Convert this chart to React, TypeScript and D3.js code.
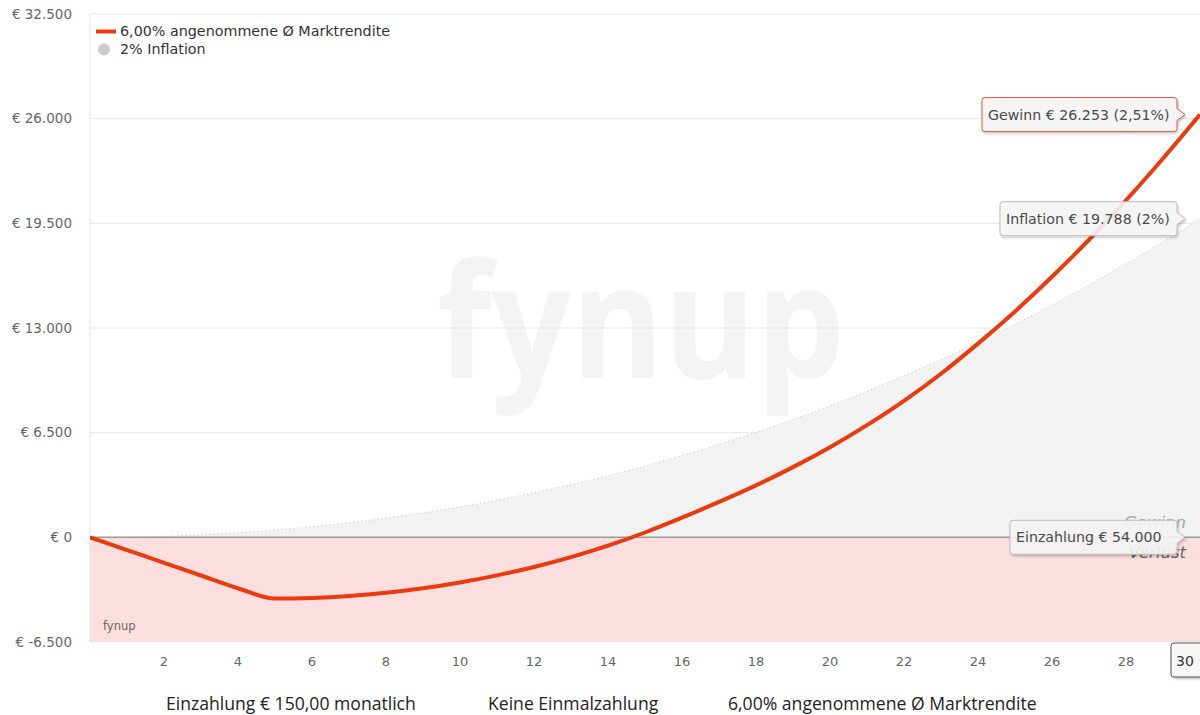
import React from "react";
import * as d3 from "d3";

// values (Gewinn / Verlust over 30 years)
const years = [0, 1, 2, 3, 4, 5, 6, 7, 8, 9, 10, 11, 12, 13, 14, 15, 16, 17, 18, 19, 20, 21, 22, 23, 24, 25, 26, 27, 28, 29, 30];
const gewinn = [0, -790, -1580, -2370, -3160, -3800, -3760, -3640, -3440, -3160, -2800, -2360, -1840, -1230, -520, 300, 1220, 2200, 3230, 4360, 5600, 6970, 8480, 10160, 12030, 14030, 16180, 18480, 20930, 23530, 26253];
const inflation = [0, 20, 70, 160, 290, 455, 660, 905, 1195, 1525, 1895, 2310, 2770, 3280, 3830, 4430, 5075, 5775, 6520, 7320, 8170, 9070, 10030, 11045, 12115, 13240, 14430, 15675, 16985, 18350, 19788];
const yTicks = [-6500, 0, 6500, 13000, 19500, 26000, 32500];
const xTicks = [2, 4, 6, 8, 10, 12, 14, 16, 18, 20, 22, 24, 26, 28];
const einzahlungGesamt = 54000;
const gewinnRate = "2,51%";
const inflationRate = "2%";
const legendLabels = ["6,00% angenommene Ø Marktrendite", "2% Inflation"];
const footerTexts = ["Einzahlung € 150,00 monatlich", "Keine Einmalzahlung", "6,00% angenommene Ø Marktrendite"];

const width = 1200, height = 715;
const margin = { top: 14, right: 0, bottom: 73, left: 90 };

const de = d3.formatLocale({ decimal: ",", thousands: ".", grouping: [3], currency: ["€ ", ""], minus: "-" });
const fmt = de.format(",.0f");
const euro = (v: number) => "€ " + fmt(v);

const font = "'DejaVu Sans', Verdana, sans-serif";

// callout box with the pointer on its right side
const callout = (x: number, y: number, w: number, h: number, tipX: number, tipY: number) => {
  const r = 3;
  return `M${x + r},${y} H${x + w - r} Q${x + w},${y} ${x + w},${y + r} V${tipY - 6} L${tipX},${tipY} L${x + w},${tipY + 6} V${y + h - r} Q${x + w},${y + h} ${x + w - r},${y + h} H${x + r} Q${x},${y + h} ${x},${y + h - r} V${y + r} Q${x},${y} ${x + r},${y} Z`;
};

const App = () => {
  const x = d3.scaleLinear().domain([0, 30]).range([margin.left, width - margin.right]);
  const y = d3.scaleLinear().domain([-6500, 32500]).range([height - margin.bottom, margin.top]);

  const pts = years.map((yr, i) => ({ yr, g: gewinn[i], inf: inflation[i] }));

  const gewinnLine = d3.line<any>().x(d => x(d.yr)).y(d => y(d.g)).curve(d3.curveMonotoneX);
  const inflArea = d3.area<any>().x(d => x(d.yr)).y0(y(0)).y1(d => y(d.inf)).curve(d3.curveMonotoneX);
  const inflLine = d3.line<any>().x(d => x(d.yr)).y(d => y(d.inf)).curve(d3.curveMonotoneX);

  const last = years.length - 1;
  const px = x(years[last]);
  const tips = [
    { text: `Gewinn ${euro(gewinn[last])} (${gewinnRate})`, v: gewinn[last], w: 195, stroke: "#e8553f" },
    { text: `Inflation ${euro(inflation[last])} (${inflationRate})`, v: inflation[last], w: 177, stroke: "#bdbdbd" },
    { text: `Einzahlung ${euro(einzahlungGesamt)}`, v: 0, w: 167, stroke: "#bdbdbd" },
  ];

  return (
    <div style={{ position: "absolute", left: 0, top: 0 }}>
      <svg width={width} height={height} style={{ display: "block", background: "#fff" }}>
        <defs>
          <clipPath id="plot">
            <rect x={margin.left} y={margin.top} width={width - margin.left - margin.right} height={y(-6500) - margin.top} />
          </clipPath>
          <filter id="shadow" x="-10%" y="-20%" width="130%" height="160%">
            <feDropShadow dx="1" dy="1.5" stdDeviation="1.2" floodColor="#000" floodOpacity="0.25" />
          </filter>
        </defs>

        {/* Verlust band */}
        <rect x={margin.left} y={y(0)} width={width - margin.left} height={y(-6500) - y(0)} fill="#fddede" />

        {/* watermark */}
        <text x={641} y={378} textAnchor="middle" fontFamily="'Open Sans', sans-serif" fontWeight={700}
          fontSize={158} fill="#f4f4f4" textLength={408} lengthAdjust="spacingAndGlyphs">fynup</text>

        {/* grid */}
        {yTicks.filter(t => t > 0).map(t => (
          <line key={t} x1={margin.left} x2={width} y1={y(t)} y2={y(t)} stroke="#e6e6e6" strokeWidth={1} />
        ))}
        <line x1={margin.left} x2={margin.left} y1={margin.top} y2={y(-6500)} stroke="#e3e3e3" />

        <g clipPath="url(#plot)">
          <path d={inflArea(pts) as string} fill="#f2f2f2" />
          <path d={inflLine(pts) as string} fill="none" stroke="#c4c4c4" strokeWidth={1} strokeDasharray="1,3" />
          <line x1={margin.left} x2={width} y1={y(0)} y2={y(0)} stroke="#9a9a9a" strokeWidth={1.5} />
          <path d={gewinnLine(pts) as string} fill="none" stroke="#eb3a0e" strokeWidth={4} strokeLinejoin="round" />
        </g>

        {/* y axis labels */}
        {yTicks.map(t => (
          <text key={t} x={72} y={y(t)} dy="0.35em" textAnchor="end" fontFamily={font} fontSize={13.5} fill="#666">{euro(t)}</text>
        ))}

        {/* x axis labels */}
        {xTicks.map(t => (
          <text key={t} x={x(t)} y={666} textAnchor="middle" fontFamily={font} fontSize={13} fill="#666">{t}</text>
        ))}

        {/* legend */}
        <line x1={96} x2={116} y1={31.5} y2={31.5} stroke="#eb3a0e" strokeWidth={4} />
        <text x={120} y={36} fontFamily={font} fontSize={14.3} fill="#333">{legendLabels[0]}</text>
        <circle cx={104} cy={49.5} r={6} fill="#cccccc" />
        <text x={120} y={54} fontFamily={font} fontSize={14.3} fill="#333">{legendLabels[1]}</text>

        {/* credit */}
        <text x={103} y={630} fontFamily={font} fontSize={11.5} fill="#666">fynup</text>

        {/* Gewinn / Verlust labels */}
        <text x={1186} y={528} textAnchor="end" fontFamily={font} fontStyle="italic" fontSize={16.5} fill="#a8a8a8">Gewinn</text>
        <text x={1186} y={558} textAnchor="end" fontFamily={font} fontStyle="italic" fontSize={16.5} fill="#666">Verlust</text>

        {/* tooltips at last point */}
        {tips.map(tp => {
          const cy = y(tp.v);
          const h = 34;
          const bx = px - 23 - tp.w;
          const by = cy - h / 2;
          return (
            <g key={tp.text}>
              <path d={callout(bx, by, tp.w, h, px - 15, cy)} fill="rgba(247,247,247,0.88)" stroke={tp.stroke} strokeWidth={1} filter="url(#shadow)" />
              <text x={bx + 6} y={cy + 5} fontFamily={font} fontSize={14.2} fill="#4a4a4a">{tp.text}</text>
            </g>
          );
        })}

        {/* x crosshair label */}
        <g>
          <rect x={1171} y={643} width={34} height={34} rx={3} fill="#f7f7f7" stroke="#555" strokeWidth={1} filter="url(#shadow)" />
          <text x={1185} y={666} textAnchor="middle" fontFamily={font} fontSize={14} fill="#333">{years[last]}</text>
        </g>

        {/* footer */}
        <g fontFamily="'Open Sans', sans-serif" fontSize={17.6} fill="#222">
          <text x={166} y={710}>{footerTexts[0]}</text>
          <text x={488} y={710}>{footerTexts[1]}</text>
          <text x={728} y={710}>{footerTexts[2]}</text>
        </g>
      </svg>
    </div>
  );
};

export default App;
